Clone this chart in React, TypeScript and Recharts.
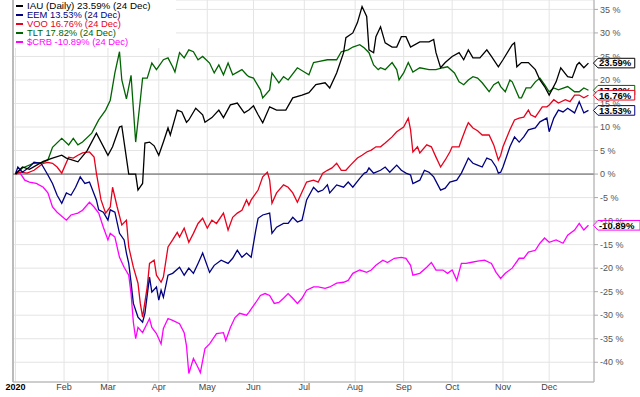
import React from 'react';
import { LineChart, Line, XAxis, YAxis, CartesianGrid, ReferenceLine, Legend } from 'recharts';

// trading-day index (0 = 2 Jan 2020) and % change since start
const IAU: [number, number][] = [[0,0],[3,1.5],[6,1.0],[12,2.7],[16,3.4],[20,4.0],[22,3.4],[27,2.6],[31,5.0],[35,8.7],[40,4.0],[42,5.8],[45,10.0],[46,10.2],[49,0],[52,0],[53,-3.4],[55,-2],[56,6.6],[58,6.8],[60,6],[62,4],[64,6.8],[66,9.8],[67,8.3],[70,13.6],[72,13.2],[74,11],[75,11.5],[78,14],[81,12.6],[82,11],[85,12],[88,13.6],[90,12],[93,14.7],[96,15.1],[99,13],[101,13.6],[103,14.5],[105,12.6],[107,10.9],[110,14.3],[113,13.6],[117,13.6],[120,16.2],[124,16.8],[127,17.3],[130,19],[134,19.4],[136,18.3],[139,21.5],[142,25.8],[143,29],[146,30],[148,32.2],[150,35.6],[152,33.5],[153,26.4],[155,25.8],[156,29.2],[158,31.3],[160,27.9],[163,27],[165,27],[167,29.2],[169,29.2],[171,27],[175,28.1],[179,28.1],[181,28.6],[182,25.8],[184,22.6],[186,23.7],[189,25],[192,25.8],[194,24.3],[196,26.4],[198,24.7],[201,24.7],[204,26.4],[206,25],[209,22.8],[211,24.3],[215,27.5],[216,27.9],[217,22.8],[219,23.7],[222,23.7],[225,22.2],[227,20],[229,18.6],[231,16.8],[234,19.6],[236,22.6],[239,20.7],[241,20.5],[243,23.2],[244,23.7],[246,22.6],[248,23.59]];

const EEM: [number, number][] = [[0,0],[1,1.5],[3,0.4],[6,1.5],[8,2.5],[11,2.3],[12,1.5],[14,-0.2],[16,-2],[18,-4.5],[20,-6.2],[22,-4],[24,-4.5],[26,-2.8],[28,-0.6],[30,-2],[32,-1.7],[35,-5.5],[36,-7.6],[38,-8.1],[40,-9.8],[41,-7.6],[43,-8.1],[45,-12.6],[47,-14],[48,-16.8],[49,-19],[50,-23],[51,-27.5],[53,-30.4],[55,-31.5],[56,-29.6],[58,-21.9],[59,-25.1],[61,-24],[62,-26.8],[63,-24.7],[64,-26.2],[66,-21.5],[68,-21.1],[71,-19.8],[73,-21.5],[75,-20],[77,-21.1],[79,-19],[81,-16.8],[84,-20.9],[86,-19.4],[89,-18.3],[92,-19],[94,-17.9],[96,-16.2],[98,-17.7],[100,-16.8],[102,-17.7],[104,-11.9],[105,-9.4],[107,-8.7],[110,-8.3],[111,-12.6],[113,-11.3],[116,-10.5],[118,-10.5],[120,-9.2],[122,-10.2],[124,-9.8],[126,-5.5],[129,-2.8],[131,-3.8],[133,-3.4],[135,-2.3],[136,-4],[139,-2.3],[142,-2.8],[144,-1.7],[146,-2.8],[149,-0.9],[151,0.2],[152,0.4],[153,1.3],[155,0.2],[158,0.8],[160,1.5],[162,0.4],[165,1.9],[167,0.8],[169,0.2],[171,-0.2],[172,-2],[175,-1.3],[177,0.8],[179,0.4],[181,-0.6],[184,-3.4],[186,-3],[188,-1.7],[191,-1.3],[193,0.2],[195,2.3],[196,3.4],[198,2.3],[200,1.9],[202,1.5],[204,3.4],[206,3],[208,1.5],[209,0.2],[210,0.4],[211,1.5],[214,5.8],[216,7.9],[218,6.8],[220,7.9],[222,9.4],[225,9.8],[227,11.1],[230,11.9],[231,9],[233,11.9],[235,13.6],[237,13.2],[239,14],[242,13],[244,15.4],[246,13],[248,13.53]];

const VOO: [number, number][] = [[0,0],[2,0.4],[5,0.2],[8,0.8],[12,2.3],[14,2.5],[16,2.3],[18,1.5],[20,0.2],[23,3.6],[25,3.4],[27,4],[29,4.5],[32,4.7],[34,3.6],[35,0.2],[37,-5.5],[39,-8.3],[41,-7],[42,-2.8],[44,-7],[46,-10.8],[48,-9.8],[49,-15.5],[51,-19.8],[53,-23.2],[54,-27.5],[55,-30.4],[57,-24],[58,-19],[60,-18.3],[61,-21.5],[63,-23],[64,-21.9],[66,-15.5],[68,-14],[70,-12.4],[71,-13.4],[73,-11.5],[75,-14.5],[77,-12.6],[79,-10.5],[81,-9.4],[83,-11.5],[85,-9.8],[87,-10.5],[90,-8.3],[92,-11.9],[94,-9.2],[96,-8.3],[98,-7.7],[100,-5.5],[101,-6.6],[102,-5.5],[105,-3.4],[107,-0.6],[109,0.4],[110,-1.3],[111,-6.2],[113,-4],[116,-2.3],[118,-2.8],[120,-4],[122,-6],[124,-3.8],[126,-1.7],[129,-1.3],[131,-1.7],[133,0.2],[135,0.8],[137,1.3],[139,2.3],[141,0.8],[143,0.8],[145,1.9],[148,3.4],[150,4],[152,4.7],[154,5.1],[156,5.8],[158,5.8],[160,6.6],[163,7.9],[165,9],[168,10],[170,11.9],[171,9.4],[172,4.7],[174,5.8],[175,4.5],[178,6.2],[180,5.8],[182,3.6],[184,1.5],[186,3],[188,4.7],[189,5.8],[192,5.8],[193,7.2],[195,9.8],[196,10.9],[198,9.8],[200,9.2],[202,8.3],[205,8.3],[207,6.2],[209,3],[210,4],[211,5.8],[214,9.4],[216,11.5],[218,11.9],[220,12.1],[222,13.6],[223,12.6],[225,12.1],[228,14.3],[230,14.3],[231,14.7],[233,15.8],[235,15.1],[238,15.8],[240,15.4],[242,16.8],[244,16.8],[246,16.2],[248,16.76]];

const TLT: [number, number][] = [[0,0],[3,1.3],[8,2.3],[12,2.5],[14,3],[16,5.7],[20,7.6],[23,6.2],[25,7.6],[27,6.2],[29,6.8],[33,8.7],[36,11.5],[39,13.6],[41,15.7],[43,21.5],[45,26],[46,20],[48,16],[50,21],[52,6.8],[54,15.7],[55,20.4],[57,20.4],[59,23.6],[61,22.2],[64,24.3],[66,24.7],[68,22.8],[69,21.7],[71,25.8],[73,24.7],[75,26.4],[77,26],[79,24.3],[81,25],[84,23.6],[86,21.5],[88,23.2],[90,21.1],[92,23.6],[94,21.1],[98,22.2],[100,21.1],[101,20.7],[103,20.4],[106,17.9],[107,16.2],[110,17.9],[111,21.5],[114,19.4],[116,20.7],[118,20],[122,22.6],[125,21.7],[127,21.1],[129,23.7],[131,23.9],[135,24.3],[139,24.3],[141,26],[144,26.4],[146,27],[149,27.5],[151,26.8],[153,25.8],[155,23.2],[157,22.2],[158,22.6],[160,22.2],[163,23.7],[165,22.2],[166,20],[168,21.5],[170,23.7],[172,21.7],[175,22.6],[179,22.2],[182,22.2],[185,22.6],[187,22.8],[190,21.5],[192,19.6],[194,19],[196,20],[198,20.7],[200,20.4],[202,19.4],[205,17.5],[207,19],[209,19.6],[210,18.6],[212,17.5],[214,20],[215,19.6],[218,16.2],[219,16.2],[221,18.3],[223,18.3],[225,19.6],[227,20.4],[229,19],[231,17.5],[233,18.3],[235,17.9],[239,18.6],[242,17.5],[244,17.5],[246,18.3],[248,17.82]];

const CRB: [number, number][] = [[0,0.4],[2,0.2],[4,-1.3],[6,-1.7],[9,-2],[12,-2.8],[14,-4],[16,-7],[18,-8.1],[22,-9.8],[24,-8.7],[27,-8.3],[29,-7.7],[32,-6],[34,-7],[36,-8.3],[38,-11.3],[40,-14],[41,-12.6],[43,-13.4],[45,-17.7],[47,-19.8],[49,-21.5],[50,-25.4],[51,-31.5],[52,-35],[53,-32.6],[55,-33.7],[58,-30.7],[59,-32.6],[61,-33.9],[63,-36.1],[64,-32.8],[66,-30.7],[68,-31.1],[71,-31.8],[73,-33.7],[74,-36.5],[75,-42.4],[77,-39.2],[79,-41.1],[80,-42.2],[82,-37.1],[84,-36.1],[87,-33.9],[90,-33.7],[91,-35.4],[93,-32.6],[95,-30.5],[97,-29.6],[100,-30],[101,-29.4],[104,-27.3],[106,-25.8],[108,-25.4],[110,-25.8],[112,-27.5],[114,-27.3],[116,-26.4],[118,-25.4],[120,-26.4],[122,-27.5],[124,-26.4],[126,-24.7],[129,-24],[131,-24],[134,-24.3],[136,-24],[139,-23.2],[142,-23],[144,-22.6],[146,-21.1],[149,-20.4],[152,-20.9],[154,-20.4],[156,-19.4],[159,-18.3],[161,-18.8],[164,-17.9],[167,-17.7],[169,-17.9],[171,-19.4],[172,-21.5],[175,-21.1],[178,-19.8],[180,-18.8],[182,-20.4],[185,-20.4],[187,-21.1],[189,-20.4],[191,-22.6],[193,-19],[195,-19],[197,-18.8],[200,-18.5],[203,-18.3],[206,-19],[208,-20.9],[210,-22.2],[212,-21.1],[215,-20],[218,-17.9],[220,-17.9],[222,-16.6],[225,-16.2],[227,-14.7],[229,-13.6],[231,-14.5],[234,-14],[237,-14.7],[239,-13],[242,-11.9],[244,-10.5],[246,-11.9],[248,-10.89]];

const MONTH_TICKS = [0, 21, 40, 62, 83, 103, 125, 147, 168, 189, 211, 231];
const MONTH_LABELS = ['2020', 'Feb', 'Mar', 'Apr', 'May', 'Jun', 'Jul', 'Aug', 'Sep', 'Oct', 'Nov', 'Dec'];
const PCT_TICKS = [-40, -35, -30, -25, -20, -15, -10, -5, 0, 5, 10, 15, 20, 25, 30, 35];

const FONT = "'Liberation Sans', Arial, Helvetica, sans-serif";

type Series = { key: string; legend: string; color: string; pts: [number, number][] };

// legend order
const SERIES: Series[] = [
  { key: 'IAU', legend: 'IAU (Daily)', color: '#000000', pts: IAU },
  { key: 'EEM', legend: 'EEM', color: '#000080', pts: EEM },
  { key: 'VOO', legend: 'VOO', color: '#e8001c', pts: VOO },
  { key: 'TLT', legend: 'TLT', color: '#006400', pts: TLT },
  { key: '$CRB', legend: '$CRB', color: '#ff00ff', pts: CRB },
];

// drawing order (last drawn on top)
const DRAW_ORDER = ['$CRB', 'TLT', 'VOO', 'EEM', 'IAU'];

const lastVal = (s: Series) => s.pts[s.pts.length - 1][1];
const fmt = (v: number) => `${v.toFixed(2)}%`;

const makeTag = (s: Series) => {
  const n = s.pts.length;
  return (p: any) => {
    if (p.index !== n - 1 || p.cx == null || p.cy == null) {
      return <g key={`d-${s.key}-${p.index}`} />;
    }
    const txt = fmt(lastVal(s));
    const w = txt.length * 5.3 + 5;
    const x0 = p.cx + 5;
    const y = p.cy;
    const d = `M${x0},${y} L${x0 + 4.5},${y - 4.8} L${x0 + 4.5 + w},${y - 4.8} L${x0 + 4.5 + w},${y + 4.8} L${x0 + 4.5},${y + 4.8} Z`;
    return (
      <g key={`t-${s.key}`}>
        <path d={d} fill="#ffffff" stroke={s.color} strokeWidth={1} />
        <text x={x0 + 5.5} y={y + 3.4} fontSize={9.5} fontWeight="bold" fontFamily={FONT} fill="#000">
          {txt}
        </text>
      </g>
    );
  };
};

const MonthTick = (props: any) => {
  const { x, y, payload } = props;
  const idx = MONTH_TICKS.indexOf(payload.value);
  const first = idx === 0;
  return (
    <text
      x={x}
      y={y}
      dy="0.71em"
      textAnchor="middle"
      fontSize={9}
      fontFamily={FONT}
      fontWeight={first ? 'bold' : 'normal'}
      fill={first ? '#000' : '#444'}
    >
      {MONTH_LABELS[idx]}
    </text>
  );
};

const ROW_CENTERS = [6, 15, 24.2, 33.3, 42.3];

const LegendBox = () => (
  <div style={{ background: '#fff', width: 162, height: 48, position: 'relative', fontFamily: FONT }}>
    {SERIES.map((s, i) => (
      <div
        key={s.key}
        style={{
          position: 'absolute',
          left: 0,
          top: ROW_CENTERS[i] - 4.4,
          height: 8.8,
          display: 'flex',
          alignItems: 'center',
          whiteSpace: 'nowrap',
          overflow: 'visible',
        }}
      >
        <span style={{ display: 'inline-block', width: 7, height: 2, background: s.color, marginLeft: 2, marginRight: 4 }} />
        <span style={{ fontSize: i === 0 ? 9.8 : 9.4, color: s.color, lineHeight: '8.8px' }}>
          {`${s.legend} ${fmt(lastVal(s))} (24 Dec)`}
        </span>
      </div>
    ))}
  </div>
);

export default function App() {
  const byKey: Record<string, Series> = {};
  SERIES.forEach((s) => (byKey[s.key] = s));
  return (
    <div style={{ position: 'absolute', left: 0, top: 0, width: 640, height: 397, background: '#fff' }}>
      <LineChart width={640} height={397} margin={{ top: 0, right: 0, bottom: 0, left: 13 }}>
        <CartesianGrid stroke="#e4e4e4" strokeWidth={1} />
        <XAxis
          type="number"
          dataKey="day"
          domain={[-1.1, 250.4]}
          ticks={MONTH_TICKS}
          interval={0}
          height={15}
          tickSize={0}
          tickMargin={2}
          tickLine={false}
          axisLine={{ stroke: '#aaaaaa' }}
          tick={<MonthTick />}
        />
        <YAxis
          orientation="right"
          type="number"
          domain={[-44.2, 37]}
          ticks={PCT_TICKS}
          interval={0}
          width={46}
          tickSize={4}
          tickMargin={2}
          tickFormatter={(v: number) => `${v} %`}
          tick={{ fontSize: 9, fill: '#555', fontFamily: FONT }}
          axisLine={{ stroke: '#aaaaaa' }}
          tickLine={{ stroke: '#aaaaaa' }}
        />
        <ReferenceLine x={-1.1} stroke="#bbbbbb" strokeWidth={2} />
        <ReferenceLine y={0} stroke="#555555" strokeWidth={1} />
        {DRAW_ORDER.map((k) => {
          const s = byKey[k];
          return (
            <Line
              key={s.key}
              name={s.key}
              data={s.pts.map(([day, v]) => ({ day, v }))}
              dataKey="v"
              type="linear"
              stroke={s.color}
              strokeWidth={1.3}
              dot={makeTag(s)}
              activeDot={false}
              isAnimationActive={false}
            />
          );
        })}
        <Legend
          layout="vertical"
          align="center"
          verticalAlign="middle"
          wrapperStyle={{ top: 0, left: 14, width: 162, height: 48 }}
          content={() => <LegendBox />}
        />
      </LineChart>
    </div>
  );
}
